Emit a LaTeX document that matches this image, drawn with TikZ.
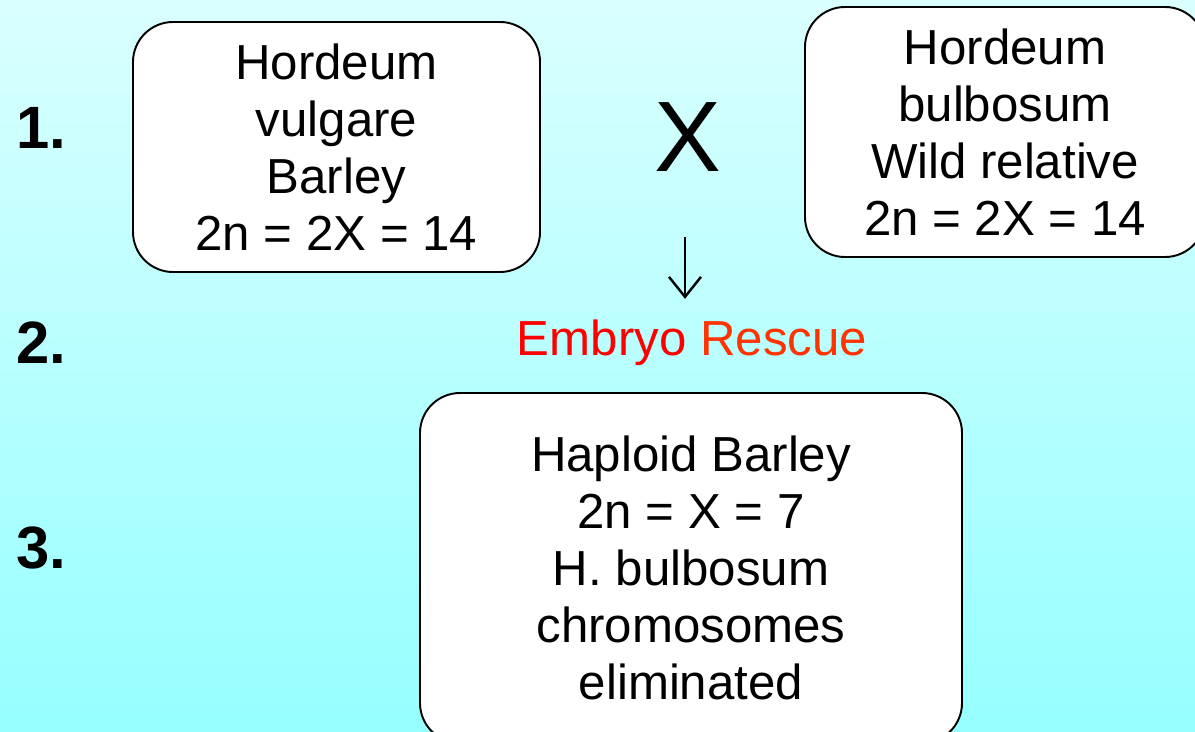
\documentclass[tikz,border=0pt]{standalone}
\usepackage{fontspec}
\setmainfont{Liberation Sans}
\definecolor{SkyTop}{RGB}{218, 255, 255}
\definecolor{SkyBottom}{RGB}{150, 255, 255}
\definecolor{RescueRed}{RGB}{255, 0, 0}
\definecolor{RescueOrange}{RGB}{255, 51, 0}
\usetikzlibrary{arrows.meta, positioning, shapes, calc}

\begin{document}
\begin{tikzpicture}[
            parent/.style={rectangle, rounded corners=0.8cm, draw=black, line width=1.1pt, fill=white,
                        align=center, font=\fontsize{28}{32.4}\selectfont},
            steplabel/.style={font=\fontsize{34}{40}\selectfont\bfseries},
            arrow/.style={-{Straight Barb[length=4mm, width=6.4mm]}, line width=1.4pt, black}
        ]
            \path[use as bounding box, clip] (0,0) rectangle (23.9,-14.64);
            \shade[top color=SkyTop, bottom color=SkyBottom] (0,0) rectangle (23.9,-14.64);

            \node[parent, minimum width=8.14cm, minimum height=5cm] (vulgare) at (6.73,-2.94)
                {Hordeum\\vulgare\\Barley\\2n = 2X = 14};
            \node[parent, minimum width=8cm, minimum height=5cm] (bulbosum) at (20.1,-2.64)
                {Hordeum\\bulbosum\\Wild relative\\2n = 2X = 14};
            \node[font=\fontsize{57}{60}\selectfont] (cross) at (13.76,-2.74) {X};
            \node[font=\fontsize{28}{32.4}\selectfont] (rescue) at (13.84,-6.86)
                {\textcolor{RescueRed}{Embryo} \textcolor{RescueOrange}{Rescue}};
            \node[parent, minimum width=10.84cm, minimum height=7cm] (haploid) at (13.82,-11.36)
                {Haploid Barley\\2n = X = 7\\H. bulbosum\\chromosomes\\eliminated};

            \node[steplabel] (one) at (0.82,-2.56) {1.};
            \node[steplabel] (two) at (0.82,-6.86) {2.};
            \node[steplabel] (three) at (0.82,-10.96) {3.};

            \coordinate (arrtop) at (13.7,-4.74);
            \draw[arrow, shorten >=0.3cm] (arrtop) -- (arrtop |- rescue.north);
        \end{tikzpicture}
\end{document}
